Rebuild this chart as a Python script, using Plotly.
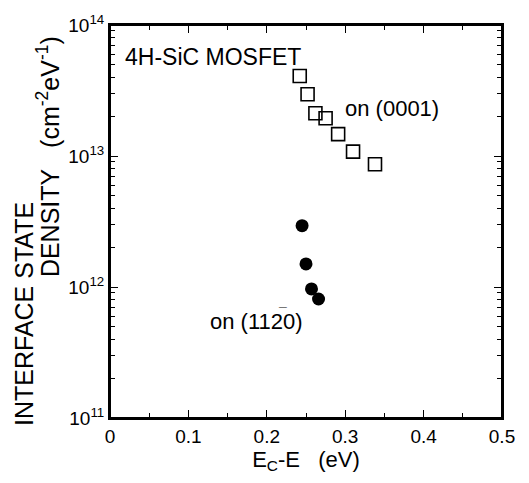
import plotly.graph_objects as go

# data
sq_x = [0.242, 0.252, 0.262, 0.275, 0.291, 0.310, 0.338]
sq_y = [4.08e13, 2.96e13, 2.12e13, 1.94e13, 1.47e13, 1.08e13, 8.65e12]
ci_x = [0.245, 0.250, 0.257, 0.266]
ci_y = [2.94e12, 1.50e12, 9.66e11, 8.1e11]

x_ticks = [0, 0.1, 0.2, 0.3, 0.4, 0.5]
x_ticktext = ["0", "0.1", "0.2", "0.3", "0.4", "0.5"]
y_ticks = [1e11, 1e12, 1e13, 1e14]
y_ticktext = ["10<sup>11</sup>", "10<sup>12</sup>", "10<sup>13</sup>", "10<sup>14</sup>"]
y_minor = [m * 10 ** e for e in (11, 12, 13) for m in range(2, 10)]
x_minor = [0.05, 0.15, 0.25, 0.35, 0.45]

FONT = "Liberation Sans, Arial, Helvetica, sans-serif"
NB = "\u00a0"

fig = go.Figure()
fig.add_trace(go.Scatter(
    x=sq_x, y=sq_y, mode="markers",
    marker=dict(symbol="square-open", size=13, color="black", line=dict(width=1.6)),
    showlegend=False))
fig.add_trace(go.Scatter(
    x=ci_x, y=ci_y, mode="markers",
    marker=dict(symbol="circle", size=13, color="black"),
    showlegend=False))

fig.update_layout(
    width=529, height=483,
    margin=dict(l=110, r=27, t=25, b=65),
    plot_bgcolor="white", paper_bgcolor="white",
    font=dict(family=FONT, color="black", size=19),
    xaxis=dict(
        range=[0, 0.5], tickvals=x_ticks, ticktext=x_ticktext,
        ticks="inside", ticklen=8, tickwidth=1.3, tickcolor="black",
        showline=True, linewidth=2, linecolor="black", mirror="ticks",
        showgrid=False, zeroline=False,
        minor=dict(tickvals=x_minor, ticks="inside", ticklen=5, tickwidth=1.1, tickcolor="black"),
        tickfont=dict(size=19),
        title=dict(text="E<sub>C</sub>-E" + NB * 3 + "(eV)", font=dict(size=22), standoff=4),
    ),
    yaxis=dict(
        type="log", range=[11, 14], tickvals=y_ticks, ticktext=y_ticktext,
        ticks="inside", ticklen=8, tickwidth=1.3, tickcolor="black",
        showline=True, linewidth=2, linecolor="black", mirror="ticks",
        showgrid=False, zeroline=False,
        minor=dict(tickvals=y_minor, ticks="inside", ticklen=5, tickwidth=1.1, tickcolor="black"),
        tickfont=dict(size=19),
    ),
)

# plot frame
fig.add_shape(type="rect", xref="paper", yref="paper", x0=0, y0=0, x1=1, y1=1,
              line=dict(color="black", width=2), layer="above")

# y-axis title (two lines, offset as in the original)
fig.add_annotation(text="INTERFACE STATE", xref="paper", yref="paper",
                   x=-0.219, y=0.265, xanchor="center", yanchor="middle",
                   textangle=-90, showarrow=False, font=dict(size=25))
fig.add_annotation(text="DENSITY" + NB * 3 + "(cm<sup>-2</sup>eV<sup>-1</sup>)", xref="paper", yref="paper",
                   x=-0.158, y=0.664, xanchor="center", yanchor="middle",
                   textangle=-90, showarrow=False, font=dict(size=25))

fig.add_annotation(text="4H-SiC MOSFET", x=0.0166, y=13.756, xanchor="left", yanchor="middle",
                   showarrow=False, font=dict(size=23))
fig.add_annotation(text="on (0001)", x=0.297, y=13.366, xanchor="left", yanchor="middle",
                   showarrow=False, font=dict(size=22))
fig.add_annotation(text="on (1120)", x=0.125, y=11.733, xanchor="left", yanchor="middle",
                   showarrow=False, font=dict(size=22))
fig.add_annotation(text="\u00af", x=0.2195, y=11.80, xanchor="center", yanchor="middle",
                   showarrow=False, font=dict(size=14))

fig.write_html("out.html", config={"displayModeBar": False},
               post_script="document.body.style.margin='0';")
